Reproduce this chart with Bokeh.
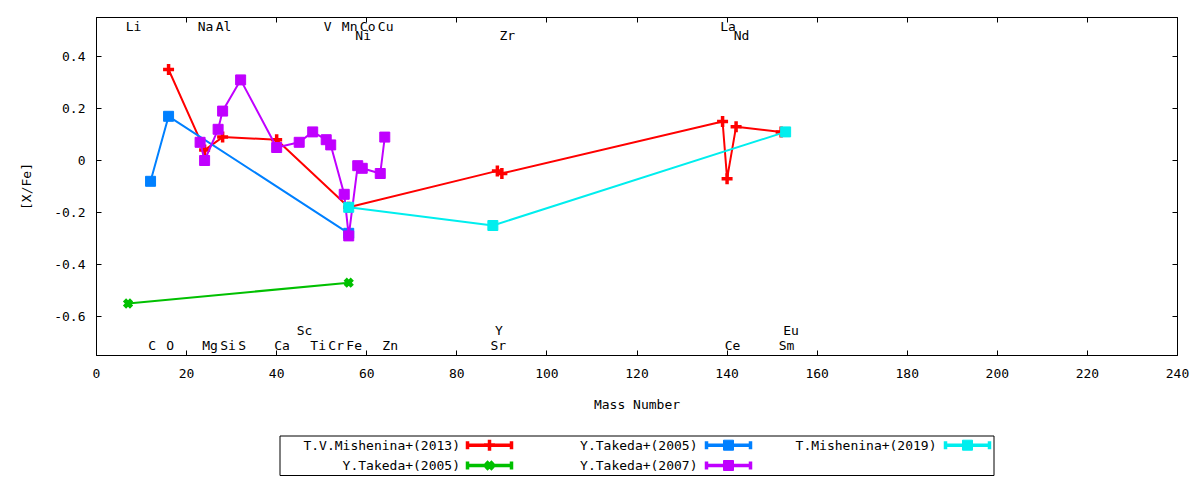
from bokeh.plotting import figure
from bokeh.models import Range1d, LinearAxis, FixedTicker, CustomJSTickFormatter
from bokeh.layouts import column
from bokeh.core.properties import value
from bokeh.embed import file_html
from bokeh.resources import INLINE

# ---------------- data ----------------
red_mass = [16, 24, 28, 40, 56, 89, 90, 139, 140, 142, 152]
red_val = [0.35, 0.04, 0.09, 0.08, -0.18, -0.04, -0.05, 0.15, -0.07, 0.13, 0.11]

green_mass = [7, 56]
green_val = [-0.55, -0.47]

blue_mass = [12, 16, 56]
blue_val = [-0.08, 0.17, -0.28]

purple_mass = [23, 24, 27, 28, 32, 40, 45, 48, 51, 52, 55, 56, 58, 59, 63, 64]
purple_val = [0.07, 0.0, 0.12, 0.19, 0.31, 0.05, 0.07, 0.11, 0.08, 0.06, -0.13, -0.29, -0.02, -0.03, -0.05, 0.09]

cyan_mass = [56, 88, 153]
cyan_val = [-0.18, -0.25, 0.11]

series_names = ["T.V.Mishenina+(2013)", "Y.Takeda+(2005)", "Y.Takeda+(2005)",
                "Y.Takeda+(2007)", "T.Mishenina+(2019)"]

elem_names = ["Li", "Na", "Al", "V", "Mn", "Co", "Cu", "La",
              "Ni", "Zr", "Nd",
              "Sc", "Y", "Eu",
              "C", "O", "Mg", "Si", "S", "Ca", "Ti", "Cr", "Fe", "Zn", "Sr", "Ce", "Sm"]
elem_mass = [7, 23, 27, 51, 55, 59, 63, 139,
             58, 90, 142,
             45, 89, 153,
             12, 16, 24, 28, 32, 40, 48, 52, 56, 64, 88, 140, 152]
elem_row = [0, 0, 0, 0, 0, 0, 0, 0,
            1, 1, 1,
            2, 2, 2,
            3, 3, 3, 3, 3, 3, 3, 3, 3, 3, 3, 3, 3]

x_ticks = [0, 20, 40, 60, 80, 100, 120, 140, 160, 180, 200, 220, 240]
y_ticks = [-0.6, -0.4, -0.2, 0, 0.2, 0.4]

# ---------------- style ----------------
FONT = "DejaVu Sans Mono"
FS = "13px"
RED, GREEN, BLUE, PURPLE, CYAN = "#ff0000", "#00c000", "#0080ff", "#c000ff", "#00eeee"
row_y = {0: 0.515, 1: 0.48, 2: -0.655, 3: -0.71}

BL, BR = 96, 15

p = figure(width=1192, height=420, x_range=Range1d(0, 240), y_range=Range1d(-0.75, 0.55),
           output_backend="svg", toolbar_location=None,
           min_border_left=BL, min_border_right=BR, min_border_top=17, min_border_bottom=65)
p.grid.visible = False
p.outline_line_color = "black"
p.outline_line_width = 1

xfmt = CustomJSTickFormatter(code="return tick.toFixed(0);")
yfmt = CustomJSTickFormatter(code="return (Math.abs(tick) < 1e-9) ? '0' : tick.toFixed(1);")
blank = CustomJSTickFormatter(code="return '';")

p.xaxis.ticker = FixedTicker(ticks=x_ticks)
p.yaxis.ticker = FixedTicker(ticks=y_ticks)
p.xaxis.formatter = xfmt
p.yaxis.formatter = yfmt
p.xaxis.axis_label = "Mass Number"
p.yaxis.axis_label = "[X/Fe]"
for ax in (p.xaxis, p.yaxis):
    ax.major_tick_in = 5
    ax.major_tick_out = 0
    ax.minor_tick_line_color = None
    ax.major_tick_line_color = "black"
    ax.axis_line_color = "black"
    ax.major_label_text_font = FONT
    ax.major_label_text_font_size = FS
    ax.major_label_text_color = "black"
    ax.axis_label_text_font = FONT
    ax.axis_label_text_font_size = FS
    ax.axis_label_text_font_style = "normal"
    ax.axis_label_text_color = "black"
p.xaxis.major_label_standoff = 13
p.xaxis.axis_label_standoff = 16
p.yaxis.major_label_standoff = 11
p.yaxis.axis_label_standoff = 17

for loc, tk in (("above", x_ticks), ("right", y_ticks)):
    ax = LinearAxis(ticker=FixedTicker(ticks=tk), formatter=blank,
                    major_label_text_font_size="0px", major_label_standoff=0,
                    major_tick_in=5, major_tick_out=0, minor_tick_line_color=None,
                    axis_line_color="black", major_tick_line_color="black")
    p.add_layout(ax, loc)

# element labels
p.text(x=elem_mass, y=[row_y[r] for r in elem_row], text=elem_names,
       text_align="left", text_baseline="middle", x_offset=-2.4,
       text_font=value(FONT), text_font_size=FS, text_color="black")

# series
p.line(red_mass, red_val, line_color=RED, line_width=2)
p.scatter(red_mass, red_val, marker="cross", size=11, line_color=RED, line_width=3.5)

p.line(green_mass, green_val, line_color=GREEN, line_width=2)
p.scatter(green_mass, green_val, marker="x", size=10, line_color=GREEN, line_width=4.5)

p.line(blue_mass, blue_val, line_color=BLUE, line_width=2)
p.scatter(blue_mass, blue_val, marker="square", size=10, line_color=BLUE, fill_color=BLUE)

p.line(purple_mass, purple_val, line_color=PURPLE, line_width=2)
p.scatter(purple_mass, purple_val, marker="square", size=10, line_color=PURPLE, fill_color=PURPLE)

p.line(cyan_mass, cyan_val, line_color=CYAN, line_width=2)
p.scatter(cyan_mass, cyan_val, marker="square", size=10, line_color=CYAN, fill_color=CYAN)

# ---------------- legend (key box below the plot), page-pixel coordinates ----------------
lf = figure(width=1192, height=60, x_range=Range1d(BL, 1192 - BR), y_range=Range1d(60, 0),
            output_backend="svg", toolbar_location=None,
            min_border_left=BL, min_border_right=BR, min_border_top=0, min_border_bottom=0)
lf.axis.visible = False
lf.grid.visible = False
lf.outline_line_color = None

lf.quad(left=[279.5], right=[993.5], top=[15.5], bottom=[55], fill_color=None, line_color="black", line_width=1)

key_colors = [RED, GREEN, BLUE, PURPLE, CYAN]
key_markers = ["cross", "x", "square", "square", "square"]
key_col = [0, 0, 1, 1, 2]
key_row = [0, 1, 0, 1, 0]
col_text_x = [459.5, 697, 936]
col_s0 = [467, 706, 945]
col_s1 = [511, 750, 989]
row_ly = [24.7, 45]

for name, c, m, ci, ri in zip(series_names, key_colors, key_markers, key_col, key_row):
    yy = row_ly[ri]
    lf.text(x=[col_text_x[ci]], y=[yy], text=[name], text_align="right", text_baseline="middle",
            text_font=value(FONT), text_font_size=FS, text_color="black")
    x0, x1 = col_s0[ci], col_s1[ci]
    lf.segment(x0=[x0], y0=[yy], x1=[x1], y1=[yy], line_color=c, line_width=3.5)
    lf.segment(x0=[x0, x1], y0=[yy - 4, yy - 4], x1=[x0, x1], y1=[yy + 4, yy + 4],
               line_color=c, line_width=3.5)
    xm = (x0 + x1) / 2
    if m == "cross":
        lf.scatter([xm], [yy], marker="cross", size=11, line_color=c, line_width=3.5)
    elif m == "x":
        lf.scatter([xm], [yy], marker="x", size=10, line_color=c, line_width=4.5)
    else:
        lf.scatter([xm], [yy], marker="square", size=10, line_color=c, fill_color=c)

layout = column(p, lf, spacing=0)
open("out.html", "w").write(file_html(layout, INLINE))
